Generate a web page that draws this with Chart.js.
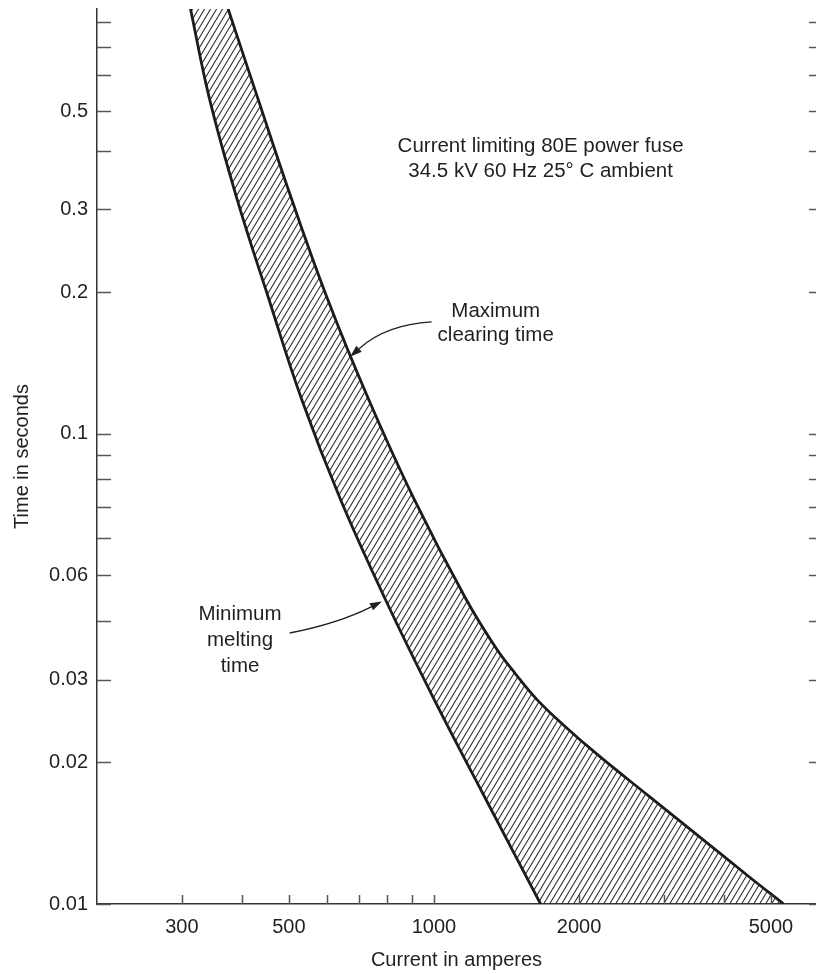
<!DOCTYPE html>
<html>
<head>
<meta charset="utf-8">
<script src="https://cdn.jsdelivr.net/npm/chart.js@4.4.1/dist/chart.umd.min.js"></script>
<style>
  html, body { margin: 0; padding: 0; background: #fff; }
  #wrap { width: 816px; height: 974px; }
</style>
</head>
<body>
<div id="wrap"><canvas id="chart"></canvas></div>
<script>
// minimum melting time curve (current in A, time in s)
const meltCurrent = [312, 342, 390, 454, 531, 639, 792, 1000, 1281, 1664];
const meltTime = [0.808, 0.517, 0.3166, 0.1939, 0.1187, 0.0727, 0.04452, 0.02727, 0.0167, 0.010];

// maximum clearing time curve
const clearCurrent = [373, 431, 506, 601, 731, 909, 1165, 1349, 1477, 1632, 1848, 2203, 2795, 3545, 4497, 5313];
const clearTime = [0.808, 0.517, 0.3166, 0.1939, 0.1187, 0.0727, 0.04452, 0.03484, 0.03083, 0.02727, 0.02412, 0.02062, 0.01694, 0.01393, 0.01144, 0.010];

const xTicks = [300, 400, 500, 600, 700, 800, 900, 1000, 2000, 3000, 4000, 5000];
const xTickLabels = ['300', '', '500', '', '', '', '', '1000', '2000', '', '', '5000'];
// marks where the original drawing puts them; the 0.05 mark is printed "0.06" there
const yTicks = [0.01, 0.02, 0.03, 0.04, 0.05, 0.06, 0.07, 0.08, 0.09, 0.1, 0.2, 0.3, 0.4, 0.485, 0.58, 0.665, 0.75];
const yTickLabels = ['0.01', '0.02', '0.03', '', '0.06', '', '', '', '', '0.1', '0.2', '0.3', '', '0.5', '', '', ''];

const FONT = '"Liberation Sans", Arial, Helvetica, sans-serif';
const INK = '#231f20';

const meltPts = meltCurrent.map((x, i) => ({ x: x, y: meltTime[i] }));
const clearPts = clearCurrent.map((x, i) => ({ x: x, y: clearTime[i] }));

// diagonal hatch
function hatch() {
  const w = 6, h = 10;
  const c = document.createElement('canvas');
  c.width = w; c.height = h;
  const g = c.getContext('2d');
  g.strokeStyle = '#2a2a2a';
  g.lineWidth = 1.1;
  for (const x0 of [-w, 0, w]) {
    g.beginPath();
    g.moveTo(x0, h);
    g.lineTo(x0 + w, 0);
    g.stroke();
  }
  return g.createPattern(c, 'repeat');
}
const hatchFill = hatch();

// hatched band between the two curves, closed along the x axis
const band = {
  id: 'band',
  beforeDatasetsDraw(chart) {
    const { ctx, chartArea: a } = chart;
    const left = chart.getDatasetMeta(0).dataset;
    const right = chart.getDatasetMeta(1).dataset;
    ctx.save();
    ctx.beginPath();
    ctx.rect(a.left, a.top, a.right - a.left, a.bottom - a.top);
    ctx.clip();
    ctx.beginPath();
    for (const s of left.segments) left.pathSegment(ctx, s, { move: true });
    for (const s of right.segments) right.pathSegment(ctx, s, { move: false, reverse: true });
    ctx.closePath();
    ctx.fillStyle = hatchFill;
    ctx.fill();
    ctx.restore();
  }
};

const tickMarks = {
  id: 'tickMarks',
  afterDraw(chart) {
    const { ctx, chartArea: a, scales: { x, y } } = chart;
    ctx.save();
    ctx.strokeStyle = '#555';
    ctx.lineWidth = 1.5;
    ctx.beginPath();
    for (const t of y.ticks) {
      const py = Math.round(y.getPixelForValue(t.value)) + 0.5;
      ctx.moveTo(a.left, py); ctx.lineTo(a.left + 14, py);
      ctx.moveTo(a.right - 7, py); ctx.lineTo(a.right, py);
    }
    for (const t of x.ticks) {
      const px = Math.round(x.getPixelForValue(t.value)) + 0.5;
      ctx.moveTo(px, a.bottom); ctx.lineTo(px, a.bottom - 9);
    }
    ctx.stroke();
    ctx.restore();
  }
};

function arrow(ctx, x, y, from, ctrl, tip) {
  const p0 = [x.getPixelForValue(from[0]), y.getPixelForValue(from[1])];
  const p1 = [x.getPixelForValue(ctrl[0]), y.getPixelForValue(ctrl[1])];
  const p2 = [x.getPixelForValue(tip[0]), y.getPixelForValue(tip[1])];
  const ang = Math.atan2(p2[1] - p1[1], p2[0] - p1[0]);
  const len = 12, half = 4;
  const bx = p2[0] - len * Math.cos(ang), by = p2[1] - len * Math.sin(ang);
  ctx.beginPath();
  ctx.moveTo(p0[0], p0[1]);
  ctx.quadraticCurveTo(p1[0], p1[1], bx, by);
  ctx.stroke();
  ctx.beginPath();
  ctx.moveTo(p2[0], p2[1]);
  ctx.lineTo(bx + half * Math.sin(ang), by - half * Math.cos(ang));
  ctx.lineTo(bx - half * Math.sin(ang), by + half * Math.cos(ang));
  ctx.closePath();
  ctx.fill();
}

const notes = {
  id: 'notes',
  afterDraw(chart) {
    const { ctx, scales: { x, y } } = chart;
    ctx.save();
    ctx.fillStyle = INK;
    ctx.strokeStyle = INK;
    ctx.lineWidth = 1.4;
    ctx.font = '20.5px ' + FONT;
    ctx.textAlign = 'center';
    ctx.textBaseline = 'middle';
    const block = (vx, vy, lines, gap) => {
      const px = x.getPixelForValue(vx), py = y.getPixelForValue(vy) + 3;
      lines.forEach((s, i) => ctx.fillText(s, px, py + i * gap));
    };
    block(1664, 0.414, ['Current limiting 80E power fuse', '34.5 kV 60 Hz 25\u00b0 C ambient'], 25);
    block(1343, 0.1845, ['Maximum', 'clearing time'], 24);
    block(396, 0.042, ['Minimum', 'melting', 'time'], 26);
    arrow(ctx, x, y, [989, 0.1729], [795, 0.1707], [670, 0.1458]);
    arrow(ctx, x, y, [502, 0.0377], [633, 0.0395], [780, 0.0440]);
    ctx.restore();
  }
};

const curveStyle = {
  borderColor: '#1c1c1c',
  borderWidth: 2.8,
  pointRadius: 0,
  tension: 0.4,
  fill: false
};

new Chart(document.getElementById('chart'), {
  type: 'line',
  data: {
    datasets: [
      Object.assign({ label: 'Minimum melting time', data: meltPts }, curveStyle),
      Object.assign({ label: 'Maximum clearing time', data: clearPts }, curveStyle)
    ]
  },
  options: {
    responsive: true,
    maintainAspectRatio: false,
    animation: false,
    layout: { padding: { top: 9, right: 0, bottom: 0, left: 0 } },
    plugins: { legend: { display: false }, tooltip: { enabled: false } },
    scales: {
      x: {
        type: 'logarithmic',
        min: 200,
        max: 6200,
        grid: { display: false, drawTicks: false, tickLength: 0 },
        border: { display: true, color: '#333', width: 1.5 },
        afterBuildTicks: (s) => { s.ticks = xTicks.map(v => ({ value: v })); },
        afterFit: (s) => { s.height = 70; s.paddingLeft = 0; s.paddingRight = 0; },
        ticks: {
          autoSkip: false,
          maxRotation: 0,
          padding: 11,
          color: INK,
          font: { family: FONT, size: 20 },
          callback: (v, i) => xTickLabels[i]
        },
        title: {
          display: true,
          text: 'Current in amperes',
          color: INK,
          font: { family: FONT, size: 20 },
          padding: { top: 0, bottom: 2 }
        }
      },
      y: {
        type: 'logarithmic',
        min: 0.01,
        max: 0.8,
        grid: { display: false, drawTicks: false, tickLength: 0 },
        border: { display: true, color: '#333', width: 1.5 },
        afterBuildTicks: (s) => { s.ticks = yTicks.map(v => ({ value: v })); },
        afterFit: (s) => { s.width = 97; s.paddingTop = 0; s.paddingBottom = 0; },
        ticks: {
          autoSkip: false,
          padding: 9,
          color: INK,
          font: { family: FONT, size: 20 },
          callback: (v, i) => yTickLabels[i]
        },
        title: {
          display: true,
          text: 'Time in seconds',
          color: INK,
          font: { family: FONT, size: 20 },
          padding: { top: 10, bottom: 0 }
        }
      }
    }
  },
  plugins: [band, tickMarks, notes]
});
</script>
</body>
</html>
